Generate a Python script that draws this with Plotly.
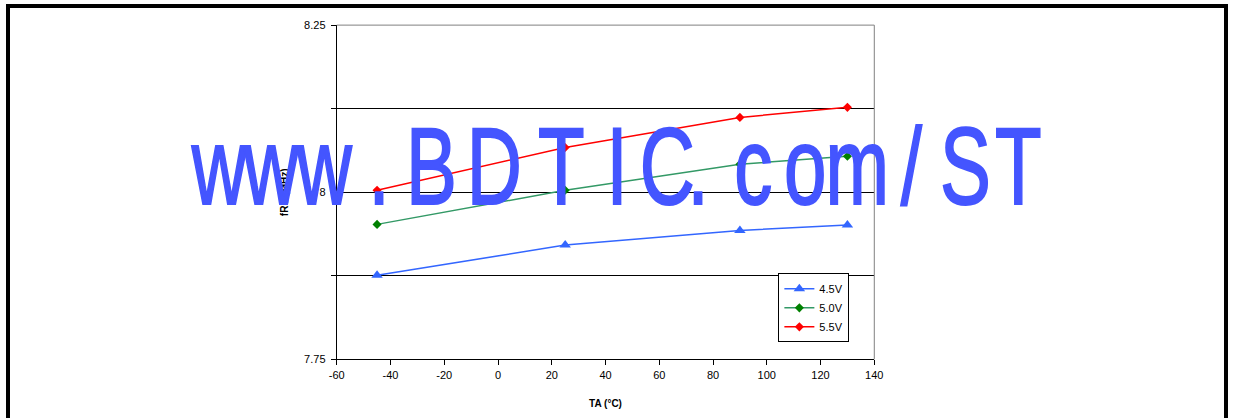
import plotly.graph_objects as go

# ---- data ----
temps = [-45, 25, 90, 130]
f_45 = [7.876, 7.921, 7.943, 7.951]
f_50 = [7.952, 8.003, 8.042, 8.054]
f_55 = [8.003, 8.067, 8.112, 8.127]
series_names = ["4.5V", "5.0V", "5.5V"]
x_tickvals = [-60, -40, -20, 0, 20, 40, 60, 80, 100, 120, 140]
x_ticktext = ["-60", "-40", "-20", "0", "20", "40", "60", "80", "100", "120", "140"]
y_tickvals = [7.75, 7.875, 8.0, 8.125, 8.25]
y_ticktext = ["7.75", "", "8", "", "8.25"]
watermark_chars = list("www.BDTIC.com/ST")
watermark_px = [219, 271, 324, 379, 432, 495, 562, 617, 668, 699, 754, 806, 858, 912, 966, 1019]

W, H = 1235, 418
# measured placement of the drawn figure inside the page
OX, DW = 8, 1219
OY, DH = 4.9, 405.6
FONT = "Liberation Sans, Arial, sans-serif"


def fx(px):
    return (px - OX) / DW


def fy(py):
    return 1 - (py - OY) / DH


fig = go.Figure()
fig.add_trace(go.Scatter(x=temps, y=f_45, name=series_names[0], mode="lines+markers",
                         line=dict(color="#3366ff", width=1.5),
                         marker=dict(symbol="triangle-up", size=10, color="#3366ff")))
fig.add_trace(go.Scatter(x=temps, y=f_50, name=series_names[1], mode="lines+markers",
                         line=dict(color="#339966", width=1.5),
                         marker=dict(symbol="diamond", size=7, color="#008000")))
fig.add_trace(go.Scatter(x=temps, y=f_55, name=series_names[2], mode="lines+markers",
                         line=dict(color="#ff0000", width=1.5),
                         marker=dict(symbol="diamond", size=7, color="#ff0000")))

x0, x1 = fx(337), fx(875)
y0, y1 = fy(358), fy(24)

fig.update_layout(
    width=W, height=H, autosize=False,
    margin=dict(l=0, r=0, t=0, b=0),
    paper_bgcolor="white", plot_bgcolor="white",
    font=dict(family=FONT, size=11, color="black"),
    showlegend=True,
    legend=dict(x=fx(779), y=fy(272), xanchor="left", yanchor="top",
                bordercolor="black", borderwidth=1, bgcolor="white",
                font=dict(size=11, family=FONT, color="black"),
                itemwidth=30, tracegroupgap=0),
    xaxis=dict(domain=[x0, x1], range=[-60, 140],
               tickvals=x_tickvals, ticktext=x_ticktext,
               ticks="outside", ticklen=5, tickcolor="black",
               showline=True, linecolor="black", linewidth=1,
               showgrid=False, zeroline=False,
               tickfont=dict(size=11, family=FONT, color="black"),
               title=dict(text="<b>TA (°C)</b>", font=dict(size=10, family=FONT), standoff=20)),
    yaxis=dict(domain=[y0, y1], range=[7.75, 8.25],
               tickvals=y_tickvals, ticktext=y_ticktext,
               ticks="outside", ticklen=5, tickcolor="black",
               ticklabelstandoff=3,
               showline=True, linecolor="black", linewidth=1,
               showgrid=True, gridcolor="black", gridwidth=1, zeroline=False,
               tickfont=dict(size=11, family=FONT, color="black"),
               title=dict(text="<b>fRC (MHz)</b>", font=dict(size=10, family=FONT), standoff=13)),
)

# plot area gray top/right borders
fig.add_shape(type="line", xref="paper", yref="paper", x0=x0, x1=x1, y0=y1, y1=y1,
              line=dict(color="#808080", width=1), layer="above")
fig.add_shape(type="line", xref="paper", yref="paper", x0=x1, x1=x1, y0=y0, y1=y1,
              line=dict(color="#808080", width=1), layer="above")
# outer frame
fig.add_shape(type="rect", xref="paper", yref="paper",
              x0=0, x1=1, y0=-0.2, y1=1,
              line=dict(color="black", width=4), layer="above")

# watermark
for ch, px in zip(watermark_chars, watermark_px):
    fig.add_annotation(text=ch, xref="paper", yref="paper", x=fx(px), y=fy(165),
                       xanchor="center", yanchor="middle", showarrow=False,
                       font=dict(family=FONT, size=109, color="#4455ff"))

post = """
document.documentElement.style.margin = '0';
document.documentElement.style.overflow = 'hidden';
document.body.style.margin = '0';
document.body.style.overflow = 'hidden';
var gd = document.getElementById('{plot_id}');
gd.querySelectorAll('g.annotation text.annotation-text').forEach(function(t){
  t.style.transformBox = 'fill-box';
  t.style.transformOrigin = 'center';
  t.style.transform = 'scaleX(0.7)';
  t.style.stroke = '#4455ff';
  t.style.strokeWidth = '2px';
});
"""

fig.write_html("out.html", post_script=post, config={"displayModeBar": False})
